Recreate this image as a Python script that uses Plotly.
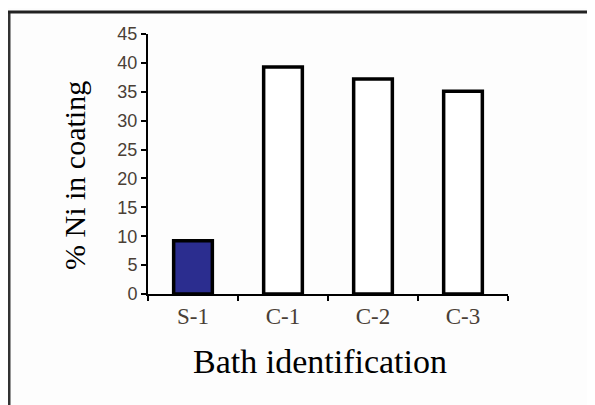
import plotly.graph_objects as go

categories = ["S-1", "C-1", "C-2", "C-3"]
ni_percent = [9.2, 39.3, 37.2, 35.1]
bar_colors = ["#2b2d8f", "#ffffff", "#ffffff", "#ffffff"]
y_ticks = [0, 5, 10, 15, 20, 25, 30, 35, 40, 45]

# page body has an 8px offset; figure coordinates = page coordinates - 8
OFF = 8
L, T = 148 - OFF, 34 - OFF
pw, ph = 360, 260
W, H = 595 - OFF, 405 - OFF
R, B = W - L - pw, H - T - ph

def px_x(p):
    return (p - OFF - L) / pw

def px_y(p):
    return (T + ph - (p - OFF)) / ph

fig = go.Figure()
fig.add_trace(go.Bar(
    x=categories, y=ni_percent,
    marker=dict(color=bar_colors, line=dict(color="black", width=3.5)),
    width=0.43,
))

tick_col = "#4a3f36"
fig.update_layout(
    width=W, height=H,
    margin=dict(l=L, r=R, t=T, b=B, autoexpand=False),
    paper_bgcolor="#fdfdfd", plot_bgcolor="#fdfdfd",
    showlegend=False,
    xaxis=dict(
        automargin=False,
        showline=True, linecolor="black", linewidth=2,
        ticks="outside", tickson="boundaries", ticklen=5, tickcolor="black", tickwidth=2,
        tickfont=dict(family="Liberation Serif", size=23, color=tick_col),
        showgrid=False, zeroline=False,
    ),
    yaxis=dict(
        automargin=False,
        range=[0, 45], tickvals=y_ticks,
        showline=True, linecolor="black", linewidth=2,
        ticks="outside", ticklen=5, tickcolor="black", tickwidth=2,
        tickfont=dict(family="Liberation Sans Narrow, Liberation Sans", size=18, color=tick_col),
        showgrid=False, zeroline=False,
    ),
)

fig.add_annotation(text="Bath identification", xref="paper", yref="paper",
                   x=px_x(320), y=px_y(361), xanchor="center", yanchor="middle",
                   showarrow=False, font=dict(family="Liberation Serif", size=34, color="black"))
fig.add_annotation(text="% Ni in coating", xref="paper", yref="paper",
                   x=px_x(74), y=px_y(176), xanchor="center", yanchor="middle", textangle=-90,
                   showarrow=False, font=dict(family="Liberation Serif", size=30, color="black"))

# outer frame
fig.add_shape(type="line", xref="paper", yref="paper",
              x0=px_x(9), x1=px_x(9), y0=px_y(12), y1=px_y(420),
              line=dict(color="#333333", width=3))
fig.add_shape(type="line", xref="paper", yref="paper",
              x0=px_x(8), x1=px_x(594), y0=px_y(12), y1=px_y(12),
              line=dict(color="#222222", width=3))
fig.add_shape(type="line", xref="paper", yref="paper",
              x0=px_x(594), x1=px_x(594), y0=px_y(12), y1=px_y(420),
              line=dict(color="#bbbbbb", width=1))

fig.write_html("out.html")
